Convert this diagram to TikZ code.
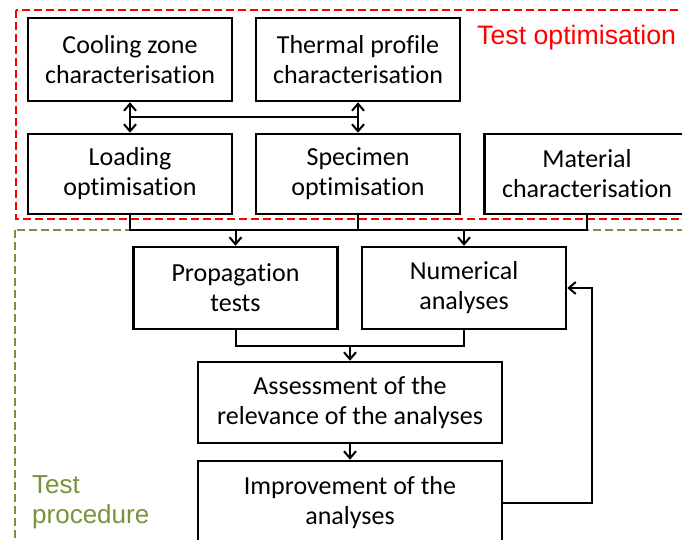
\documentclass[tikz,border=0pt]{standalone}
\usepackage{fontspec}
\setmainfont[Ligatures=NoCommon]{Carlito}
\newfontfamily\arialf{Liberation Sans}
\usetikzlibrary{arrows.meta,calc}
\definecolor{optred}{RGB}{255,0,0}
\definecolor{procgreen}{RGB}{119,147,60}
\tikzset{
  stepbox/.style={draw=black, line width=2.5pt, minimum width=204pt, minimum height=82pt,
    align=center, font=\fontsize{26}{30}\selectfont, inner sep=0pt, anchor=center},
  widebox/.style={stepbox, minimum width=304pt},
  conn/.style={line width=2pt, draw=black},
  arr/.style={conn, -{Straight Barb[length=7pt,width=12pt,line width=2pt]}},
  darr/.style={conn, {Straight Barb[length=7pt,width=12pt,line width=2pt]}-{Straight Barb[length=7pt,width=12pt,line width=2pt]}},
  redzone/.style={draw=optred, line width=2pt, dash pattern=on 8pt off 4pt},
  greenzone/.style={draw=procgreen, line width=2pt, dash pattern=on 8pt off 4pt},
}
\begin{document}
\begin{tikzpicture}[x=1pt,y=-1pt]
\useasboundingbox (0,0) rectangle (682,540);
\clip (0,0) rectangle (682,540);
% zones
\draw[greenzone] (15,230) rectangle (720,580);
\draw[redzone] (16,10) rectangle (720,219);
\node[font=\arialf\fontsize{26.7}{30}\selectfont, text=optred, anchor=base west, inner sep=0pt] (optlabel) at (477,45) {Test optimisation};
\node[font=\arialf\fontsize{26}{30}\selectfont, text=procgreen, anchor=west, align=left, inner sep=0pt] (proclabel) at (32,502) {Test\\procedure};
% boxes
\node[stepbox, minimum height=83pt] (cool) at (130,59.5) {Cooling zone\\characterisation};
\node[stepbox, minimum height=83pt] (therm) at (358,59.5) {Thermal profile\\characterisation};
\node[stepbox, minimum height=80pt] (load) at (130,174) {Loading\\optimisation};
\node[stepbox, minimum height=80pt] (spec) at (358,174) {Specimen\\optimisation};
\node[stepbox, minimum height=80pt, minimum width=205pt] (mat) at (587,174) {Material\\characterisation};
\node[stepbox] (prop) at (235.5,288) {Propagation\\tests};
\node[stepbox] (num) at (464,288) {Numerical\\analyses};
\node[widebox, minimum height=81pt] (assess) at (350,402.5) {Assessment of the\\relevance of the analyses};
\node[widebox, minimum height=84pt] (impr) at (350,503) {Improvement of the\\analyses};
% connectors in test optimisation
\draw[darr] (cool.south) -- (load.north);
\draw[darr] (therm.south) -- (spec.north);
\draw[conn] ($(cool.south)!0.5!(load.north)$) -- ($(therm.south)!0.5!(spec.north)$);
% bus to propagation / numerical
\coordinate (bus) at (0,230);
\draw[conn] (load.south) -- (load.south |- bus) -- (mat.south |- bus) -- (mat.south);
\draw[conn] (spec.south) -- (spec.south |- bus);
\draw[arr] (prop.north |- bus) -- (prop.north);
\draw[arr] (num.north |- bus) -- (num.north);
% merge to assessment
\coordinate (merge) at (0,346);
\draw[conn] (prop.south) -- (prop.south |- merge) -- (num.south |- merge) -- (num.south);
\draw[arr] (assess.north |- merge) -- (assess.north);
\draw[arr] (assess.south) -- (impr.north);
% feedback loop
\coordinate (loopx) at (592,0);
\draw[arr] (impr.east) -- (loopx |- impr.east) -- (loopx |- num.east) -- (num.east);
\end{tikzpicture}
\end{document}
